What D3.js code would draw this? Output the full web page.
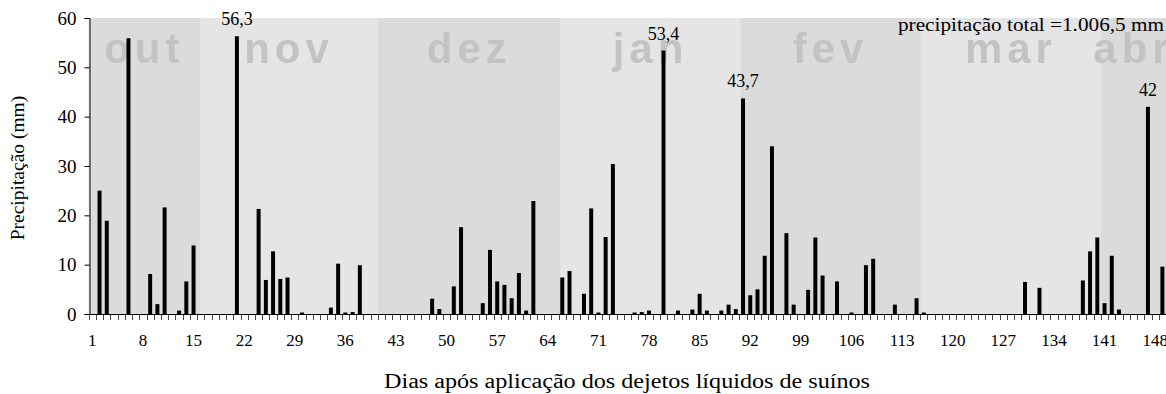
<!DOCTYPE html>
<html>
<head>
<meta charset="utf-8">
<script src="https://cdn.jsdelivr.net/npm/d3@7"></script>
</head>
<body style="margin:0;padding:0;background:#fff">
<svg id="chart" width="1166" height="394" style="display:block;background:#fff"></svg>
<script>
// Daily rainfall (mm) after slurry application; days without rain are 0
const rainDays = [2, 3, 6, 9, 10, 11, 13, 14, 15, 21, 24, 25, 26, 27, 28, 30,
  34, 35, 36, 37, 38, 48, 49, 51, 52, 55, 56, 57, 58, 59, 60, 61, 62,
  66, 67, 69, 70, 71, 72, 73, 76, 77, 78, 80, 82, 84, 85, 86, 88, 89, 90,
  91, 92, 93, 94, 95, 97, 98, 100, 101, 102, 104, 106, 108, 109, 112, 115, 116,
  130, 132, 138, 139, 140, 141, 142, 143, 147, 149];
const rainMm = [25.0, 18.9, 55.9, 8.1, 2.0, 21.6, 0.7, 6.6, 13.9, 56.3, 21.3, 6.9, 12.7, 7.1, 7.4, 0.3,
  1.3, 10.2, 0.3, 0.4, 9.9, 3.1, 1.0, 5.6, 17.6, 2.2, 13.0, 6.6, 5.9, 3.2, 8.3, 0.7, 22.9,
  7.4, 8.7, 4.1, 21.4, 0.3, 15.6, 30.4, 0.3, 0.4, 0.7, 53.4, 0.7, 0.9, 4.1, 0.7, 0.7, 1.9, 1.0,
  43.7, 3.8, 5.0, 11.8, 34.0, 16.4, 1.9, 4.9, 15.5, 7.8, 6.6, 0.3, 9.9, 11.2, 1.9, 3.2, 0.3,
  6.5, 5.3, 6.8, 12.7, 15.5, 2.2, 11.8, 0.9, 42.0, 9.6];

// Bars that carry a value label
const labelledDays = [21, 80, 91, 147];

const dayCount = 149;
const days = d3.range(1, dayCount + 1);
const xTickDays = d3.range(1, dayCount + 1, 7);   // 1, 8, 15, ... 148
const yTicks = [0, 10, 20, 30, 40, 50, 60];

// Month shading behind the bars (first day of each period, last entry closes the range)
const monthNames = ["out", "nov", "dez", "jan", "fev", "mar", "abr"];
const monthStart = [1, 16.4, 41, 66.3, 91.1, 116.1, 141, 150];

const totalText = "precipitação total =1.006,5 mm";
const xTitle = "Dias após aplicação dos dejetos líquidos de suínos";
const yTitle = "Precipitação (mm)";

const SERIF = "Liberation Serif";
const SANS = "Liberation Sans";

const rainByDay = new Map(rainDays.map((d, i) => [d, rainMm[i]]));
const series = days.map(d => ({ day: d, mm: rainByDay.get(d) || 0 }));

const svg = d3.select("#chart");
const W = 1166;
const plot = { left: 88.7, right: 1166, top: 18, bottom: 314 };

const x = d3.scaleBand()
  .domain(days)
  .range([plot.left, plot.right])
  .paddingInner(0.45)
  .paddingOuter(0.225);
const step = x.step();
const dayEdge = d => plot.left + (d - 1) * step;

const y = d3.scaleLinear().domain([0, 60]).range([plot.bottom, plot.top]);

// soft blur for the large month names
const defs = svg.append("defs");
defs.append("filter").attr("id", "soft")
  .append("feGaussianBlur").attr("stdDeviation", 0.7);

// month bands
const months = monthNames.map((m, i) => ({ name: m, a: monthStart[i], b: monthStart[i + 1], i }));
svg.append("g").selectAll("rect").data(months).join("rect")
  .attr("x", d => dayEdge(d.a))
  .attr("y", plot.top)
  .attr("width", d => dayEdge(d.b) - dayEdge(d.a))
  .attr("height", plot.bottom - plot.top)
  .attr("fill", d => d.i % 2 === 0 ? "#dcdbdc" : "#e6e5e6");

svg.append("g").attr("filter", "url(#soft)")
  .selectAll("text").data(months).join("text")
  .attr("x", d => (dayEdge(d.a) + Math.min(dayEdge(d.b), W)) / 2)
  .attr("y", 63)
  .attr("text-anchor", "middle")
  .style("font-family", SANS)
  .style("font-weight", "bold")
  .style("font-size", "42px")
  .style("letter-spacing", "5px")
  .style("fill", "#c3c3c3")
  .text(d => d.name);

// bars
svg.append("g").selectAll("rect").data(series.filter(d => d.mm > 0)).join("rect")
  .attr("x", d => x(d.day))
  .attr("width", x.bandwidth())
  .attr("y", d => y(d.mm))
  .attr("height", d => y(0) - y(d.mm))
  .attr("fill", "#000");

// value labels
svg.append("g").selectAll("text").data(series.filter(d => labelledDays.includes(d.day))).join("text")
  .attr("x", d => x(d.day) + x.bandwidth() / 2)
  .attr("y", d => y(d.mm) - 11)
  .attr("text-anchor", "middle")
  .style("font-family", SERIF)
  .style("font-size", "18px")
  .style("fill", "#000")
  .text(d => String(d.mm % 1 === 0 ? d.mm : d.mm.toFixed(1)).replace(".", ","));

// x axis: ticks between days, labels every 7 days
const xAxis = svg.append("g");
xAxis.selectAll("line.tk").data(days).join("line").attr("class", "tk")
  .attr("x1", d => Math.round(dayEdge(d)) + 0.5).attr("x2", d => Math.round(dayEdge(d)) + 0.5)
  .attr("y1", plot.bottom).attr("y2", plot.bottom + 6)
  .attr("stroke", "#444");
xAxis.append("line")
  .attr("x1", plot.left).attr("x2", plot.right)
  .attr("y1", plot.bottom + 0.5).attr("y2", plot.bottom + 0.5)
  .attr("stroke", "#000");
xAxis.selectAll("text").data(xTickDays).join("text")
  .attr("x", d => x(d) + x.bandwidth() / 2)
  .attr("y", 346)
  .attr("text-anchor", "middle")
  .style("font-family", SERIF)
  .style("font-size", "17px")
  .style("fill", "#000")
  .text(d => d);

// y axis
const yAxis = svg.append("g").attr("transform", `translate(${Math.round(plot.left) + 0.5},0)`)
  .call(d3.axisLeft(y).tickValues(yTicks).tickSize(5).tickPadding(8).tickFormat(d3.format("d")));
yAxis.attr("font-family", null);
yAxis.select(".domain").attr("stroke", "#000");
yAxis.selectAll(".tick line").attr("stroke", "#000");
yAxis.selectAll(".tick text")
  .style("font-family", SERIF)
  .style("font-size", "19px")
  .style("fill", "#000");

// annotation and titles
svg.append("text")
  .attr("x", 1164).attr("y", 31)
  .attr("text-anchor", "end")
  .attr("textLength", 266)
  .attr("lengthAdjust", "spacingAndGlyphs")
  .style("font-family", SERIF)
  .style("font-size", "19px")
  .style("fill", "#000")
  .text(totalText);

svg.append("text")
  .attr("x", 627).attr("y", 388)
  .attr("text-anchor", "middle")
  .attr("textLength", 486)
  .attr("lengthAdjust", "spacingAndGlyphs")
  .style("font-family", SERIF)
  .style("font-size", "20px")
  .style("fill", "#000")
  .text(xTitle);

svg.append("text")
  .attr("transform", "translate(24,168) rotate(-90)")
  .attr("text-anchor", "middle")
  .style("font-family", SERIF)
  .style("font-size", "19.5px")
  .style("fill", "#000")
  .text(yTitle);
</script>
</body>
</html>
